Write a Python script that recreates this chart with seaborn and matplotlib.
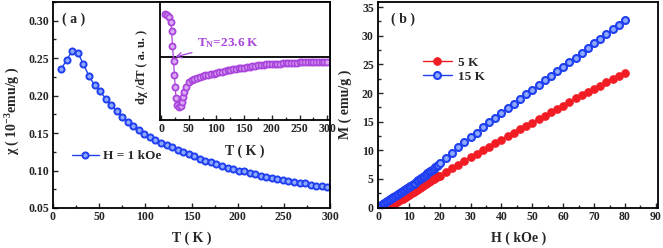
import numpy as np
import pandas as pd
import matplotlib
matplotlib.use("Agg")
import matplotlib.pyplot as plt
from matplotlib.ticker import MultipleLocator
import seaborn as sns

# ---------------- data ----------------
# panel (a): chi vs T at H = 1 kOe
T_a = [9, 15, 21, 27, 33, 39, 45, 51, 57, 63, 69, 75, 81, 87, 93, 99, 105, 111,
       117, 123, 129, 135, 141, 147, 153, 159, 165, 171, 177, 183, 189, 195, 201,
       207, 213, 219, 225, 231, 237, 243, 249, 255, 261, 267, 273, 279, 285, 291, 297]
chi_a = [0.236, 0.248, 0.260, 0.257, 0.242, 0.226, 0.214, 0.206, 0.196, 0.187,
         0.179, 0.172, 0.165, 0.159, 0.154, 0.149, 0.145, 0.141, 0.137, 0.134,
         0.131, 0.128, 0.125, 0.122, 0.119, 0.116, 0.113, 0.111, 0.109, 0.106,
         0.104, 0.102, 0.100, 0.099, 0.097, 0.095, 0.093, 0.092, 0.090, 0.089,
         0.087, 0.086, 0.085, 0.084, 0.083, 0.081, 0.080, 0.079, 0.078]

# inset: dchi/dT (a.u.)
T_in = [7, 11, 14.5, 17.5, 19, 20.5, 22.5, 24, 25.5, 27, 29.5, 32.5, 35.5, 37.5,
        39, 41.5, 44.5, 50, 55, 60, 65, 70, 75, 80, 85, 90, 95, 100, 105, 110,
        115, 120, 125, 130, 135, 140, 145, 150, 155, 160, 165, 170, 175, 180,
        185, 190, 195, 200, 205, 210, 215, 220, 225, 230, 235, 240, 245, 250,
        255, 260, 265, 270, 275, 280, 285, 290, 295, 300]
dchi_in = [1.30, 1.27, 1.22, 1.07, 0.80, 0.35, -0.10, -0.53, -0.90, -1.23, -1.43,
           -1.50, -1.46, -1.33, -1.18, -1.03, -0.88, -0.75, -0.69, -0.65, -0.61,
           -0.58, -0.56, -0.54, -0.52, -0.505, -0.49, -0.47, -0.45, -0.43, -0.41,
           -0.39, -0.375, -0.36, -0.345, -0.33, -0.32, -0.31, -0.295, -0.28,
           -0.265, -0.25, -0.235, -0.225, -0.215, -0.21, -0.205, -0.20, -0.195,
           -0.19, -0.185, -0.18, -0.175, -0.17, -0.165, -0.16, -0.155, -0.15,
           -0.15, -0.145, -0.145, -0.14, -0.14, -0.14, -0.14, -0.14, -0.14, -0.14]

# panel (b): M vs H
H_b = [0, 0.5, 1, 1.5, 2, 2.5, 3, 3.5, 4, 4.5, 5, 5.5, 6, 6.5, 7, 7.5, 8, 8.5,
       9, 9.5, 10, 10.5, 11, 11.5, 12, 12.5, 13, 13.5, 14, 14.5, 15, 15.5, 16,
       16.5, 17, 17.5, 18, 18.5, 19, 19.5, 20,
       22, 24, 26, 28, 30, 32, 34, 36, 38, 40, 42, 44, 46, 48, 50, 52, 54, 56,
       58, 60, 62, 64, 66, 68, 70, 72, 74, 76, 78, 80]
M_5K = [0.0, 0.01, 0.02, 0.05, 0.08, 0.14, 0.2, 0.3, 0.4, 0.52, 0.65, 0.8, 0.95,
        1.1, 1.25, 1.4, 1.55, 1.7, 1.85, 2.0, 2.15, 2.32, 2.5, 2.67, 2.85, 3.02,
        3.2, 3.37, 3.55, 3.75, 3.95, 4.15, 4.35, 4.52, 4.7, 4.87, 5.05, 5.17,
        5.3, 5.42, 5.55,
        6.2, 6.85, 7.5, 8.12, 8.75, 9.38, 10.0, 10.62, 11.24, 11.85, 12.45,
        13.05, 13.65, 14.25, 14.83, 15.4, 16.0, 16.6, 17.2, 17.8, 18.4, 19.05,
        19.65, 20.2, 20.75, 21.3, 21.85, 22.4, 22.95, 23.5]
M_15K = [0.15, 0.3, 0.45, 0.62, 0.8, 0.95, 1.1, 1.28, 1.45, 1.62, 1.8, 1.97,
         2.15, 2.32, 2.5, 2.67, 2.85, 3.02, 3.2, 3.4, 3.6, 3.77, 3.95, 4.15,
         4.35, 4.55, 4.75, 4.95, 5.15, 5.35, 5.55, 5.75, 5.95, 6.17, 6.4, 6.6,
         6.8, 7.02, 7.25, 7.47, 7.7,
         8.65, 9.6, 10.5, 11.4, 12.25, 13.1, 14.0, 14.85, 15.7, 16.55, 17.35,
         18.15, 19.0, 19.8, 20.6, 21.4, 22.2, 23.0, 23.8, 24.6, 25.4, 26.2,
         27.0, 27.85, 28.7, 29.5, 30.3, 31.1, 31.9, 32.7]

# ---------------- style ----------------
sns.set_style("ticks")
plt.rcParams["font.family"] = ["Liberation Serif", "DejaVu Serif"]
plt.rcParams["font.weight"] = "bold"
plt.rcParams["axes.labelweight"] = "bold"
plt.rcParams["mathtext.fontset"] = "custom"
plt.rcParams["mathtext.rm"] = "Liberation Serif:bold"
plt.rcParams["mathtext.it"] = "Liberation Serif:italic:bold"
plt.rcParams["mathtext.bf"] = "Liberation Serif:bold"
plt.rcParams["mathtext.default"] = "rm"
plt.rcParams["axes.linewidth"] = 1.3

BLUE = "#1f3ff0"
BLUE_L = "#8eaaff"
RED = "#f21c24"
PURP = "#a944dc"
PURP_L = "#dba8f3"
TICK_FS = 8.5
LAB_FS = 10

fig = plt.figure(figsize=(6.63, 2.48), dpi=100)
ax_a = fig.add_axes([53 / 663, 1 - 208 / 248, 277 / 663, 206 / 248])
ax_in = fig.add_axes([160 / 663, 1 - 120 / 248, 170 / 663, 118 / 248])
ax_b = fig.add_axes([378 / 663, 1 - 207.5 / 248, 280.3 / 663, 205.5 / 248])


def style_axis(ax):
    ax.tick_params(which="both", direction="in", top=False, right=False,
                   labelsize=TICK_FS, width=1.0)
    ax.tick_params(which="major", length=3.5)
    ax.tick_params(which="minor", length=2)
    ax.tick_params(axis="x", pad=2.5)
    ax.tick_params(axis="y", pad=3)
    for s in ax.spines.values():
        s.set_linewidth(1.3)
        s.set_color("black")
    for lab in ax.get_xticklabels() + ax.get_yticklabels():
        lab.set_fontweight("bold")


# ---------------- panel (a) ----------------
df_a = pd.DataFrame({"T": T_a, "chi": chi_a})
sns.lineplot(data=df_a, x="T", y="chi", ax=ax_a, color=BLUE, lw=1.0,
             marker="o", markersize=4.4, markerfacecolor=BLUE_L,
             markeredgecolor=BLUE, markeredgewidth=1.4, label="H = 1 kOe")
ax_a.set_xlim(0, 300)
ax_a.set_ylim(0.05, 0.325)
ax_a.xaxis.set_major_locator(MultipleLocator(50))
ax_a.xaxis.set_minor_locator(MultipleLocator(25))
ax_a.yaxis.set_minor_locator(MultipleLocator(0.025))
ax_a.set_yticks([0.05, 0.10, 0.15, 0.20, 0.25, 0.30])
ax_a.set_yticklabels(["0.05", "0.10", "0.15", "0.20", "0.25", "0.30"])
style_axis(ax_a)
ax_a.set_xlabel("T ( K )", fontsize=LAB_FS, fontweight="bold")
ax_a.set_ylabel(r"χ ( 10$^{-3}$emu/g )", fontsize=LAB_FS, fontweight="bold")
ax_a.xaxis.set_label_coords(0.5, -0.115)
ax_a.yaxis.set_label_coords(-0.112, 0.47)
ax_a.text(9 / 277, 1 - 17 / 206, "( a )", transform=ax_a.transAxes,
          fontsize=LAB_FS, fontweight="bold", ha="left", va="center")
leg = ax_a.legend(loc="center left", bbox_to_anchor=(0.069, 0.252),
                  frameon=False, borderpad=0, borderaxespad=0,
                  handlelength=2.0, handletextpad=0.35, fontsize=9.5)
for t in leg.get_texts():
    t.set_fontweight("bold")

# ---------------- inset ----------------
df_in = pd.DataFrame({"T": T_in, "d": dchi_in})
sns.lineplot(data=df_in, x="T", y="d", ax=ax_in, color=PURP, lw=0.9,
             marker="o", markersize=4.4, markerfacecolor=PURP_L,
             markeredgecolor=PURP, markeredgewidth=1.3, legend=False)
ax_in.axhline(0, color="black", lw=1.3, zorder=0)
ax_in.set_xlim(-2, 305)
ax_in.set_ylim(-1.88, 1.66)
ax_in.xaxis.set_major_locator(MultipleLocator(50))
ax_in.xaxis.set_minor_locator(MultipleLocator(25))
ax_in.set_yticks([])
style_axis(ax_in)
ax_in.set_xlabel("T ( K )", fontsize=LAB_FS, fontweight="bold")
ax_in.set_ylabel("dχ /dT ( a. u. )", fontsize=9, fontweight="bold")
ax_in.xaxis.set_label_coords(0.5, -0.205)
ax_in.yaxis.set_label_coords(-0.07, 0.45)
ax_in.annotate(r"T$_\mathregular{N}$=23.6 K", xy=(23, 0.0), xytext=(64, 0.33),
               color=PURP, fontsize=9.5, fontweight="bold", ha="left", va="baseline",
               arrowprops=dict(arrowstyle="->", color=PURP, lw=0.9,
                               shrinkA=1, shrinkB=1))

# ---------------- panel (b) ----------------
df_b = pd.DataFrame({"H": H_b, "M5": M_5K, "M15": M_15K})
sns.lineplot(data=df_b, x="H", y="M5", ax=ax_b, color=RED, lw=1.0,
             marker="o", markersize=5.4, markerfacecolor=RED,
             markeredgecolor=RED, markeredgewidth=0.8, label="5 K")
sns.lineplot(data=df_b, x="H", y="M15", ax=ax_b, color=BLUE, lw=1.0,
             marker="o", markersize=5.0, markerfacecolor=BLUE_L,
             markeredgecolor=BLUE, markeredgewidth=1.5, label="15 K")
ax_b.set_xlim(0, 90.8)
ax_b.set_ylim(0, 35.9)
ax_b.xaxis.set_major_locator(MultipleLocator(10))
ax_b.xaxis.set_minor_locator(MultipleLocator(5))
ax_b.yaxis.set_major_locator(MultipleLocator(5))
ax_b.yaxis.set_minor_locator(MultipleLocator(2.5))
style_axis(ax_b)
ax_b.set_xlabel("H ( kOe )", fontsize=LAB_FS, fontweight="bold")
ax_b.set_ylabel("M ( emu/g )", fontsize=LAB_FS, fontweight="bold")
ax_b.xaxis.set_label_coords(0.5, -0.115)
ax_b.yaxis.set_label_coords(-0.093, 0.5)
ax_b.text(13 / 280, 1 - 17 / 205.5, "( b )", transform=ax_b.transAxes,
          fontsize=LAB_FS, fontweight="bold", ha="left", va="center")
leg_b = ax_b.legend(loc="center left", bbox_to_anchor=(0.160, 0.671),
                    frameon=False, borderpad=0, borderaxespad=0,
                    handlelength=2.2, handletextpad=0.45, labelspacing=0.1,
                    fontsize=9.5)
for t in leg_b.get_texts():
    t.set_fontweight("bold")

fig.savefig("out.png", dpi=100)
